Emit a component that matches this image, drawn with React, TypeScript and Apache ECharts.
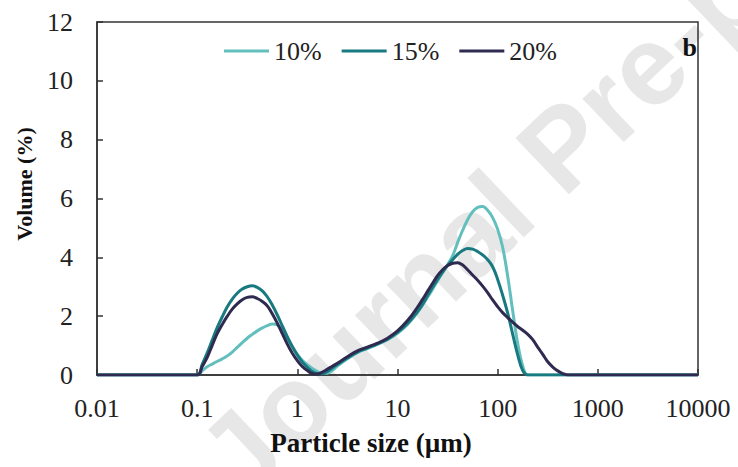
import React, { useEffect, useRef } from "react";
import * as echarts from "echarts";

// Particle sizes (µm) shared by all three distributions
const sizes = [
  0.01,
  0.1, 0.112, 0.126, 0.141, 0.158, 0.178, 0.2, 0.224, 0.251, 0.282, 0.316, 0.355, 0.398, 0.447, 0.501, 0.562, 0.631, 0.708, 0.794, 0.891, 1, 1.12, 1.26, 1.41, 1.58, 1.78, 2, 2.24, 2.51,
  3.16, 3.98, 5.01, 6.31, 7.94, 10, 12.6, 15.8,
  17.8, 20, 22.4, 25.1, 28.2, 31.6, 35.5, 39.8, 44.7, 50.1, 56.2, 63.1, 70.8, 79.4, 89.1, 100, 112, 126, 141, 158, 178, 200, 224, 251, 282, 316, 355, 398, 447, 501, 562, 631,
  10000,
];

// Volume (%) values
const vol10 = [
  0,
  0, 0.14, 0.28, 0.37, 0.46, 0.55, 0.65, 0.78, 0.94, 1.1, 1.25, 1.38, 1.5, 1.6, 1.68, 1.73, 1.7, 1.55, 1.25, 0.95, 0.7, 0.5, 0.34, 0.22, 0.12, 0.06, 0.06, 0.16, 0.3,
  0.55, 0.76, 0.9, 1.04, 1.2, 1.42, 1.72, 2.12,
  2.38, 2.65, 2.92, 3.2, 3.48, 3.75, 4.05, 4.5, 4.92, 5.28, 5.55, 5.7, 5.73, 5.6, 5.35, 4.95, 4.35, 3.35, 2.2, 1.1, 0.3, 0, 0, 0, 0, 0, 0, 0, 0, 0, 0, 0,
  0,
];
const vol15 = [
  0,
  0, 0.35, 0.75, 1.18, 1.6, 1.98, 2.32, 2.58, 2.78, 2.92, 3.0, 3.03, 2.98, 2.86, 2.66, 2.38, 2.04, 1.67, 1.3, 0.97, 0.68, 0.44, 0.26, 0.12, 0.05, 0.04, 0.12, 0.24, 0.36,
  0.58, 0.78, 0.92, 1.06, 1.22, 1.45, 1.75, 2.15,
  2.4, 2.7, 2.98, 3.25, 3.5, 3.72, 3.92, 4.1, 4.23, 4.3, 4.28, 4.2, 4.08, 3.92, 3.68, 3.25, 2.72, 2.1, 1.4, 0.7, 0.15, 0, 0, 0, 0, 0, 0, 0, 0, 0, 0, 0,
  0,
];
const vol20 = [
  0,
  0, 0.28, 0.6, 1.0, 1.4, 1.72, 2.0, 2.24, 2.42, 2.56, 2.64, 2.66, 2.6, 2.5, 2.35, 2.08, 1.76, 1.41, 1.05, 0.74, 0.49, 0.29, 0.15, 0.05, 0.03, 0.1, 0.2, 0.3, 0.4,
  0.62, 0.82, 0.95, 1.08, 1.25, 1.5, 1.85, 2.3,
  2.57, 2.85, 3.12, 3.38, 3.58, 3.72, 3.8, 3.82, 3.74, 3.58, 3.4, 3.22, 3.02, 2.8, 2.55, 2.32, 2.12, 1.95, 1.8, 1.65, 1.52, 1.38, 1.2, 0.95, 0.7, 0.45, 0.27, 0.14, 0.05, 0, 0, 0,
  0,
];

const seriesNames = ["10%", "15%", "20%"];
const seriesColors = ["#62bfbd", "#187a80", "#2e2a50"];
const xMin = 0.01;
const xMax = 10000;
const yMin = 0;
const yMax = 12;
const yStep = 2;

const serif = "Liberation Serif";

export default function App() {
  const ref = useRef<HTMLDivElement>(null);
  useEffect(() => {
    if (!ref.current) return;
    const chart = echarts.init(ref.current, undefined, { renderer: "svg" });
    const all = [vol10, vol15, vol20];
    chart.setOption({
      animation: false,
      backgroundColor: "#ffffff",
      grid: {
        left: 97,
        right: 40,
        top: 22,
        bottom: 92,
        show: true,
        borderColor: "#333333",
        borderWidth: 1.5,
        backgroundColor: "transparent",
      },
      legend: {
        data: seriesNames,
        left: 219,
        top: 33,
        icon: "rect",
        itemWidth: 45,
        itemHeight: 3,
        itemGap: 20,
        textStyle: { fontFamily: serif, fontSize: 26, color: "#222" },
      },
      xAxis: {
        type: "log",
        logBase: 10,
        min: xMin,
        max: xMax,
        axisLine: { show: true, lineStyle: { color: "#333", width: 1.5 } },
        axisTick: { show: true, inside: true, length: 6, lineStyle: { color: "#333", width: 1.5 } },
        splitLine: { show: false },
        axisLabel: {
          fontFamily: serif,
          fontSize: 26,
          color: "#222",
          margin: 20,
          formatter: (v: number) => String(Number(v.toPrecision(6))),
        },
      },
      yAxis: {
        type: "value",
        min: yMin,
        max: yMax,
        interval: yStep,
        axisLine: { show: true, lineStyle: { color: "#333", width: 1.5 } },
        axisTick: { show: true, inside: true, length: 6, lineStyle: { color: "#333", width: 1.5 } },
        splitLine: { show: false },
        axisLabel: { fontFamily: serif, fontSize: 26, color: "#222", margin: 24 },
      },
      graphic: [
        {
          type: "text",
          x: 218,
          y: 474,
          rotation: 0.76,
          z: -10,
          silent: true,
          style: {
            text: "Journal Pre-proof",
            fontFamily: "Liberation Sans",
            fontWeight: "bold",
            fontSize: 113,
            fill: "#e7e7e7",
            verticalAlign: "middle",
          },
        },
        {
          type: "text",
          x: 697,
          y: 47,
          z: 10,
          style: {
            text: "b",
            fontFamily: serif,
            fontWeight: "bold",
            fontSize: 26,
            fill: "#111",
            align: "right",
            verticalAlign: "middle",
          },
        },
        {
          type: "text",
          x: 371,
          y: 443,
          z: 10,
          style: {
            text: "Particle size (µm)",
            fontFamily: serif,
            fontWeight: "bold",
            fontSize: 27,
            fill: "#111",
            align: "center",
            verticalAlign: "middle",
          },
        },
        {
          type: "text",
          x: 24,
          y: 184,
          rotation: Math.PI / 2,
          z: 10,
          style: {
            text: "Volume (%)",
            fontFamily: serif,
            fontWeight: "bold",
            fontSize: 22,
            fill: "#111",
            align: "center",
            verticalAlign: "middle",
          },
        },
      ],
      series: seriesNames.map((name, k) => ({
        name,
        type: "line",
        smooth: 0.4,
        showSymbol: false,
        symbol: "none",
        z: 3 + k,
        color: seriesColors[k],
        lineStyle: { width: 3, color: seriesColors[k] },
        data: sizes.map((s, i) => [s, all[k][i]]),
      })),
    });
    return () => chart.dispose();
  }, []);
  return (
    <div
      ref={ref}
      style={{ position: "fixed", left: 0, top: 0, width: 738, height: 467 }}
    />
  );
}
